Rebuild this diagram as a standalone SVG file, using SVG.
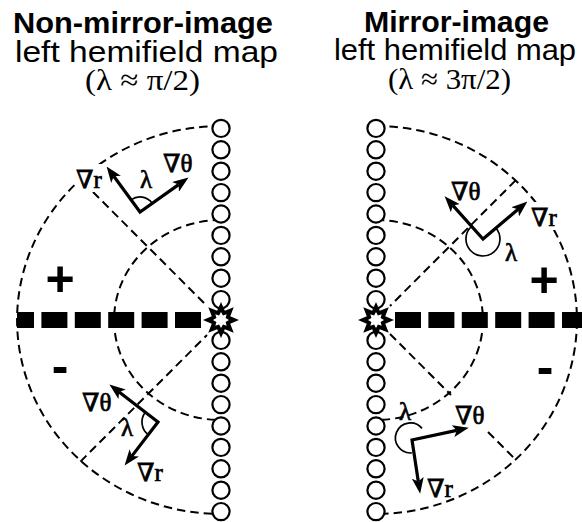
<svg xmlns="http://www.w3.org/2000/svg" width="582" height="522" viewBox="0 0 582 522">
<style>
.dash{fill:none;stroke:#000;stroke-width:2;stroke-dasharray:8.5 5}
.bar{fill:none;stroke:#000;stroke-width:16;stroke-dasharray:26 7.4}
.c{fill:#fff;stroke:#000;stroke-width:2.2}
.vec{fill:none;stroke:#000;stroke-width:3.2;stroke-linejoin:miter;marker-start:url(#ah);marker-end:url(#ah)}
.ang{fill:none;stroke:#000;stroke-width:1.7}
.lbl{font-family:"Liberation Serif","DejaVu Serif",serif;font-size:25px;fill:#000;stroke:#000;stroke-width:0.7}
.t1{font-family:"Liberation Sans",Arial,sans-serif;font-weight:bold;font-size:29px;text-anchor:middle;fill:#000}
.t2{font-family:"Liberation Sans",Arial,sans-serif;font-size:30px;text-anchor:middle;fill:#000}
.t3{font-family:"Liberation Serif","DejaVu Serif",serif;font-size:30px;text-anchor:middle;fill:#000}
.sign{font-family:"Liberation Sans",Arial,sans-serif;font-weight:bold;font-size:50px;text-anchor:middle;fill:#000}
</style>
<defs>
<marker id="ah" viewBox="0 0 16 12" refX="3.8" refY="6" markerWidth="16" markerHeight="12" markerUnits="userSpaceOnUse" orient="auto-start-reverse"><path d="M0,0 L16,6 L0,12 L3.8,6 Z" fill="#000"/></marker>
<mask id="gaps" maskUnits="userSpaceOnUse" x="0" y="0" width="582" height="522">
<rect width="582" height="522" fill="#fff"/>
<rect x="75" y="164" width="27" height="28" fill="#000"/>
<rect x="530" y="202" width="32" height="28" fill="#000"/>
</mask>
<g id="star">
<polygon points="0,-18 3.83,-9.24 12.73,-12.73 9.24,-3.83 18,0 9.24,3.83 12.73,12.73 3.83,9.24 0,18 -3.83,9.24 -12.73,12.73 -9.24,3.83 -18,0 -9.24,-3.83 -12.73,-12.73 -3.83,-9.24" fill="#000"/>
<polygon points="0,-8 1.91,-4.62 5.66,-5.66 4.62,-1.91 8,0 4.62,1.91 5.66,5.66 1.91,4.62 0,8 -1.91,4.62 -5.66,5.66 -4.62,1.91 -8,0 -4.62,-1.91 -5.66,-5.66 -1.91,-4.62" fill="#fff"/>
</g>
</defs>
<rect width="582" height="522" fill="#fff"/>

<g id="titles">
<text class="t1" x="143" y="33" textLength="260" lengthAdjust="spacingAndGlyphs">Non-mirror-image</text>
<text class="t2" x="146.5" y="62" textLength="263" lengthAdjust="spacingAndGlyphs">left hemifield map</text>
<text class="t3" x="142.5" y="90" textLength="115" lengthAdjust="spacingAndGlyphs">(λ ≈ π/2)</text>
<text class="t1" x="456.5" y="32" textLength="185" lengthAdjust="spacingAndGlyphs">Mirror-image</text>
<text class="t2" x="455" y="60" textLength="242" lengthAdjust="spacingAndGlyphs">left hemifield map</text>
<text class="t3" x="449.5" y="89" textLength="123" lengthAdjust="spacingAndGlyphs">(λ ≈ 3π/2)</text>
</g>

<g id="connectors" mask="url(#gaps)">
<path class="dash" d="M221,126 A204,194 0 0 0 221,514"/>
<path class="dash" d="M221,220 A107,100 0 0 0 221,420"/>
<path class="dash" d="M93,192 L207,306"/>
<path class="dash" d="M80.4,461.6 L207,335"/>
<path class="dash" d="M376,126 A201,194 0 0 1 376,514"/>
<path class="dash" d="M376,220 A107,100 0 0 1 376,420"/>
<path class="dash" d="M515.6,180.4 L390,306"/>
<path class="dash" d="M390,334 L451,395"/>
<path class="dash" d="M488,432 L515.6,459.6"/>
<path class="bar" d="M201,320 H17"/>
<path class="bar" d="M395,320 H582"/>
</g>

<g id="left-column">
<circle class="c" cx="221" cy="128.4" r="8.6"/>
<circle class="c" cx="221" cy="149.8" r="8.6"/>
<circle class="c" cx="221" cy="171.2" r="8.6"/>
<circle class="c" cx="221" cy="192.6" r="8.6"/>
<circle class="c" cx="221" cy="214" r="8.6"/>
<circle class="c" cx="221" cy="235.4" r="8.6"/>
<circle class="c" cx="221" cy="256.8" r="8.6"/>
<circle class="c" cx="221" cy="278.2" r="8.6"/>
<circle class="c" cx="221" cy="299.6" r="8.6"/>
<circle class="c" cx="221" cy="340.4" r="8.6"/>
<circle class="c" cx="221" cy="361.8" r="8.6"/>
<circle class="c" cx="221" cy="383.2" r="8.6"/>
<circle class="c" cx="221" cy="404.6" r="8.6"/>
<circle class="c" cx="221" cy="426" r="8.6"/>
<circle class="c" cx="221" cy="447.4" r="8.6"/>
<circle class="c" cx="221" cy="468.8" r="8.6"/>
<circle class="c" cx="221" cy="490.2" r="8.6"/>
<circle class="c" cx="221" cy="511.6" r="8.6"/>
</g>
<g id="right-column">
<circle class="c" cx="376" cy="128.4" r="8.6"/>
<circle class="c" cx="376" cy="149.8" r="8.6"/>
<circle class="c" cx="376" cy="171.2" r="8.6"/>
<circle class="c" cx="376" cy="192.6" r="8.6"/>
<circle class="c" cx="376" cy="214" r="8.6"/>
<circle class="c" cx="376" cy="235.4" r="8.6"/>
<circle class="c" cx="376" cy="256.8" r="8.6"/>
<circle class="c" cx="376" cy="278.2" r="8.6"/>
<circle class="c" cx="376" cy="299.6" r="8.6"/>
<circle class="c" cx="376" cy="340.4" r="8.6"/>
<circle class="c" cx="376" cy="361.8" r="8.6"/>
<circle class="c" cx="376" cy="383.2" r="8.6"/>
<circle class="c" cx="376" cy="404.6" r="8.6"/>
<circle class="c" cx="376" cy="426" r="8.6"/>
<circle class="c" cx="376" cy="447.4" r="8.6"/>
<circle class="c" cx="376" cy="468.8" r="8.6"/>
<circle class="c" cx="376" cy="490.2" r="8.6"/>
<circle class="c" cx="376" cy="511.6" r="8.6"/>
</g>

<g id="left-star"><use href="#star" x="221" y="320"/></g>
<g id="right-star"><use href="#star" x="376" y="320"/></g>

<g id="left-signs">
<text class="sign" x="60" y="296">+</text>
<text class="sign" x="60" y="383">-</text>
</g>
<g id="right-signs">
<text class="sign" x="544" y="297">+</text>
<text class="sign" x="545" y="384">-</text>
</g>

<g id="left-upper-vectors">
<path class="vec" d="M113.8,176.3 L140,212 L178.6,184.6"/>
<path class="ang" d="M131.1,199.9 A15,15 0 0 1 152.2,203.3"/>
<text class="lbl" x="76" y="188">∇r</text>
<text class="lbl" x="163" y="172">∇θ</text>
<text class="lbl" x="140" y="188">λ</text>
</g>
<g id="left-lower-vectors">
<path class="vec" d="M119.1,392 L158,422 L132,455.9"/>
<path class="ang" d="M145.3,412.2 A16,16 0 0 0 148.3,434.7"/>
<text class="lbl" x="82" y="411">∇θ</text>
<text class="lbl" x="121" y="436">λ</text>
<text class="lbl" x="137" y="481">∇r</text>
</g>
<g id="right-upper-vectors">
<path class="ang" d="M471.4,226.5 A17,17 0 1 0 496.1,228.2"/>
<path class="vec" d="M452.8,205.4 L483,239 L518.1,209.3"/>
<text class="lbl" x="451" y="200">∇θ</text>
<text class="lbl" x="531" y="226">∇r</text>
<text class="lbl" x="505" y="261">λ</text>
</g>
<g id="right-lower-vectors">
<path class="ang" d="M422,428.4 A15,15 0 1 0 411.8,452.9"/>
<path class="vec" d="M456.8,430.4 L412,440 L418.3,481.6"/>
<text class="lbl" x="399" y="420">λ</text>
<text class="lbl" x="455" y="424">∇θ</text>
<text class="lbl" x="427" y="497">∇r</text>
</g>
</svg>
